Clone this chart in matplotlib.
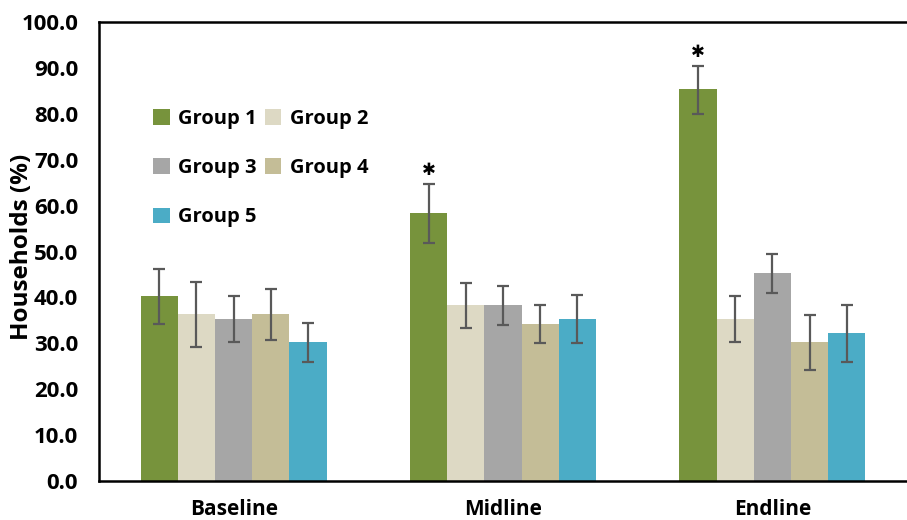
import matplotlib
matplotlib.use("Agg")
from matplotlib import pyplot as plt
import numpy as np

plt.rcParams['font.family'] = ['Open Sans', 'DejaVu Sans']
plt.rcParams['font.weight'] = 'bold'

# data
rounds = ["Baseline", "Midline", "Endline"]
groups = ["Group 1", "Group 2", "Group 3", "Group 4", "Group 5"]
colors = ["#77933C", "#DDD9C4", "#A6A6A6", "#C4BD97", "#4BACC6"]

g1 = [40.4, 58.4, 85.4]
g2 = [36.4, 38.3, 35.3]
g3 = [35.3, 38.3, 45.3]
g4 = [36.4, 34.2, 30.3]
g5 = [30.3, 35.3, 32.2]

# error bar ends (upper, lower)
g1_hi = [46.2, 64.7, 90.5]
g1_lo = [34.2, 51.8, 80.0]
g2_hi = [43.3, 43.1, 40.2]
g2_lo = [29.3, 33.4, 30.3]
g3_hi = [40.2, 42.5, 49.5]
g3_lo = [30.3, 34.0, 41.0]
g4_hi = [41.8, 38.4, 36.2]
g4_lo = [30.8, 30.1, 24.2]
g5_hi = [34.5, 40.5, 38.4]
g5_lo = [26.0, 30.1, 26.0]

# significant bars (group 1 at midline and endline)
star_round = [1, 2]

vals = [g1, g2, g3, g4, g5]
his = [g1_hi, g2_hi, g3_hi, g4_hi, g5_hi]
los = [g1_lo, g2_lo, g3_lo, g4_lo, g5_lo]

fig = plt.figure(figsize=(9.07, 5.20), dpi=100)
ax = fig.add_axes([99/907, 1-481/520, 1-99/907, (481-22)/520])

x = np.arange(len(rounds))
w = 0.138
handles = []
for i in range(5):
    v = np.array(vals[i])
    err = [v - np.array(los[i]), np.array(his[i]) - v]
    pos = x + (i - 2) * w
    b = ax.bar(pos, v, w, color=colors[i], label=groups[i], zorder=2)
    handles.append(b)
    ax.errorbar(pos, v, yerr=err, fmt='none', ecolor='#595959',
                elinewidth=1.6, capsize=4.5, capthick=1.6, zorder=3)

for r in star_round:
    ax.text(x[r] - 2 * w, g1_hi[r] + 1.0, "\u2731", ha='center', va='bottom',
            fontsize=12, family=['DejaVu Sans'], color='black')

ax.set_xlim(-0.5, 2.5)
ax.set_ylim(0, 100)
ax.set_yticks(np.arange(0, 101, 10))
ax.set_yticklabels([f"{t:.1f}" for t in np.arange(0, 101, 10)])
ax.set_xticks(x)
ax.set_xticklabels(rounds)
ax.tick_params(axis='both', length=0)
ax.tick_params(axis='x', pad=13, labelsize=15)
ax.tick_params(axis='y', pad=15, labelsize=16)
for lab in ax.get_xticklabels() + ax.get_yticklabels():
    lab.set_fontweight('bold')

ax.set_ylabel("Households (%)", fontsize=17.5, fontweight='bold')
ax.yaxis.set_label_coords(-0.08, 0.51)

ax.spines['right'].set_visible(False)
for s in ['left', 'top', 'bottom']:
    ax.spines[s].set_linewidth(1.8)
    ax.spines[s].set_color('black')

# row-wise legend order in 2 columns
order = [0, 2, 4, 1, 3]
leg = ax.legend([handles[k] for k in order], [groups[k] for k in order],
                ncol=2, loc='upper left', bbox_to_anchor=(0.045, 0.85),
                frameon=False, handlelength=0.8, handleheight=0.8,
                handletextpad=0.4, columnspacing=0.45, labelspacing=1.45,
                prop={'weight': 'bold', 'size': 14.5})

fig.savefig("out.png", dpi=100)
